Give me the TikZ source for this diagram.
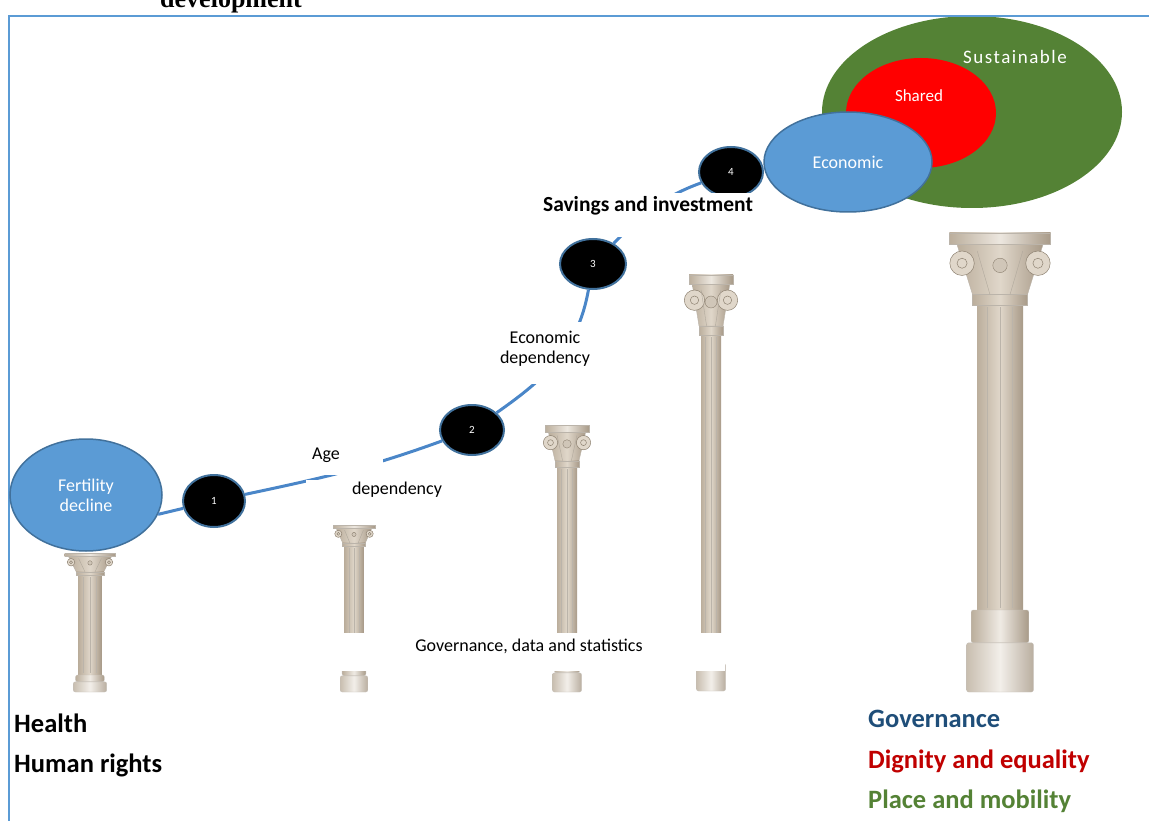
\documentclass[tikz,border=0pt]{standalone}
\usepackage{fontspec}
\setmainfont{Carlito}
\newfontfamily\serifbf{Liberation Serif}
\newfontfamily\spacedfont{Carlito}[LetterSpace=8]
\usetikzlibrary{shapes.geometric}
\definecolor{frameblue}{HTML}{5B9BD5}
\definecolor{ellblue}{HTML}{5B9BD5}
\definecolor{ellbord}{HTML}{41719C}
\definecolor{curveblue}{HTML}{4A86C8}
\definecolor{susgreen}{HTML}{548235}
\definecolor{govblue}{HTML}{1F4E79}
\definecolor{dignred}{HTML}{C00000}
\definecolor{colL}{HTML}{BBAE9C}
\definecolor{colM}{HTML}{E0D7CA}
\definecolor{colR}{HTML}{A89A88}
\definecolor{colD}{HTML}{8E8272}
\newcommand\mypillar[6]{%
 \pgfmathsetmacro\pcx{#1}%
 \pgfmathsetmacro\ptop{#2}%
 \pgfmathsetmacro\pcb{#3}%
 \pgfmathsetmacro\psb{#4}%
 \pgfmathsetmacro\pbot{#5}%
 \pgfmathsetmacro\ps{#6}%
 \pgfmathsetmacro\pc{2.2*\ps}%
 \pgfmathsetmacro\ph{\pcb-\ptop}%
 \pgfmathsetmacro\pB{\pbot-\psb}%
 \shade[left color=colL, right color=colR, middle color=colM] ({\pcx-\ps},\pcb) rectangle ({\pcx+\ps},\psb);
 \foreach \fl in {-0.55,0,0.55} \draw[colD!60, line width=0.5pt] ({\pcx+\fl*\ps},{\pcb+2}) -- ({\pcx+\fl*\ps},{\psb-2});
 \shadedraw[left color=colL, right color=colR, middle color=colM!50!white, draw=colD!50, line width=0.4pt, rounded corners=2pt] ({\pcx-1.25*\ps},\psb) rectangle ({\pcx+1.25*\ps},{\psb+0.4*\pB});
 \shadedraw[left color=colL!80!white, right color=colR!80!white, middle color=colM!40!white, draw=colD!50, line width=0.4pt, rounded corners=2pt] ({\pcx-1.45*\ps},{\psb+0.4*\pB}) rectangle ({\pcx+1.45*\ps},\pbot);
 \shadedraw[left color=colL, right color=colR, middle color=colM, draw=colD!60, line width=0.4pt] ({\pcx-0.85*\pc},{\ptop+0.16*\ph}) -- ({\pcx+0.85*\pc},{\ptop+0.16*\ph}) -- ({\pcx+1.2*\ps},{\pcb-0.15*\ph}) -- ({\pcx-1.2*\ps},{\pcb-0.15*\ph}) -- cycle;
 \shadedraw[left color=colL, right color=colR, middle color=colM, draw=colD!60, line width=0.4pt] ({\pcx-1.2*\ps},{\pcb-0.15*\ph}) rectangle ({\pcx+1.2*\ps},\pcb);
 \shadedraw[left color=colL, right color=colR, middle color=colM!60!white, draw=colD!60, line width=0.4pt] ({\pcx-\pc},\ptop) rectangle ({\pcx+\pc},{\ptop+0.16*\ph});
 \foreach \sg in {-1,1} {
  \filldraw[fill=colM, draw=colD, line width=0.5pt] ({\pcx+\sg*0.75*\pc},{\ptop+0.42*\ph}) circle ({0.17*\ph});
  \draw[colD, line width=0.5pt] ({\pcx+\sg*0.75*\pc},{\ptop+0.42*\ph}) circle ({0.07*\ph});
  \draw[colD!70, line width=0.4pt] ({\pcx+\sg*0.2*\pc},{\pcb-0.15*\ph}) -- ({\pcx+\sg*0.45*\pc},{\ptop+0.25*\ph});
 }
 \filldraw[fill=colM!80!colD, draw=colD, line width=0.4pt] (\pcx,{\ptop+0.45*\ph}) circle ({0.1*\ph});
}
\tikzset{
 bigell/.style={ellipse, fill=ellblue, draw=ellbord, line width=1.5pt, text=white, inner sep=0pt, align=center, font=\fontsize{18}{20}\selectfont},
 numell/.style={ellipse, fill=black, draw=ellbord, line width=2pt, text=white, inner sep=0pt, font=\fontsize{11}{12}\selectfont},
 link/.style={draw=curveblue, line width=3pt},
 cover/.style={fill=white, inner sep=0pt, draw=none},
 lbl/.style={font=\fontsize{18}{20}\selectfont, inner sep=0pt, align=center},
 biglbl/.style={font=\fontsize{26.5}{29}\selectfont\bfseries, inner sep=0pt, anchor=base west},
}
\begin{document}
\begin{tikzpicture}[x=1pt,y=-1pt]
\useasboundingbox (0,0) rectangle (1149,821);
% title fragment (cut off at the top, as in the original)
\node[font=\serifbf\bfseries\fontsize{26}{28}\selectfont, anchor=base, inner sep=0pt] (dev) at (231,8) {development};
% big ellipses top right
\node[ellipse, fill=susgreen, minimum width=300pt, minimum height=192pt, inner sep=0pt] (sus) at (972,112) {};
\node[ellipse, fill=red, minimum width=150pt, minimum height=110pt, inner sep=0pt] (shared) at (921,113) {};
\node[text=white, font=\fontsize{17}{19}\selectfont, inner sep=0pt] (sharedtxt) at (919,96) {Shared};
\node[text=white, font=\spacedfont\fontsize{19}{22}\selectfont, inner sep=0pt] (sustxt) at (1015,57) {Sustainable};
% frame
\draw[frameblue, line width=2pt] (9,821) -- (9,16) -- (1149,16);
% columns
\mypillar{90}{553}{575}{675}{692}{11.5}
\mypillar{354}{525}{546}{665}{692}{9.5}
\mypillar{567}{425}{467}{660}{692}{10}
\mypillar{711}{275}{335}{645}{691}{10}
\mypillar{1000}{233}{305}{610}{692}{23}
% nodes on the path
\node[bigell, minimum width=152pt, minimum height=112pt] (fert) at (86,495) {Fertility\\decline};
\node[numell, minimum width=62pt, minimum height=52pt] (e1) at (214,501) {1};
\node[numell, minimum width=64pt, minimum height=50pt] (e2) at (472,430) {2};
\node[numell, minimum width=66pt, minimum height=50pt] (e3) at (593,264) {3};
\node[numell, minimum width=64pt, minimum height=50pt] (e4) at (731,172) {4};
\node[bigell, minimum width=168pt, minimum height=100pt] (econ) at (848,162) {Economic};
% path
\draw[link] (fert.-15) -- (e1);
\draw[link] (e1) to[out=12, in=200] (e2);
\draw[link] (e2) to[out=35, in=-100] (e3);
\draw[link] (e3) to[out=45, in=200] (e4);
\draw[link] (e4) -- (econ);
% covering label boxes
\node[cover, minimum width=78pt, minimum height=37pt] (agebox) at (344,456.5) {};
\node[lbl, anchor=west] (agetxt) at (312,455) {Age};
\node[cover, minimum width=146pt, minimum height=22pt] (depbox) at (379,491) {};
\node[lbl] (deptxt) at (397,490) {dependency};
\node[cover, minimum width=110pt, minimum height=62pt] (edbox) at (548,353) {};
\node[lbl] (edtxt) at (545,349) {Economic\\dependency};
\node[cover, minimum width=236pt, minimum height=44pt] (savbox) at (648,215) {};
\node[font=\fontsize{21.5}{24}\selectfont\bfseries, inner sep=0pt] (savtxt) at (648,206) {Savings and investment};
\node[cover, minimum width=400pt, minimum height=38pt] (govbox) at (525,652) {};
\node[lbl] (govtxt) at (529,646) {Governance,\ data\ and\ statistics};
% bottom labels
\node[biglbl] (health) at (14,732) {Health};
\node[biglbl] (hr) at (14,772) {Human rights};
\node[biglbl, text=govblue] (gov) at (868,727) {Governance};
\node[biglbl, text=dignred] (dig) at (868,768) {Dignity and equality};
\node[biglbl, text=susgreen] (place) at (868,808) {Place and mobility};
\end{tikzpicture}
\end{document}
